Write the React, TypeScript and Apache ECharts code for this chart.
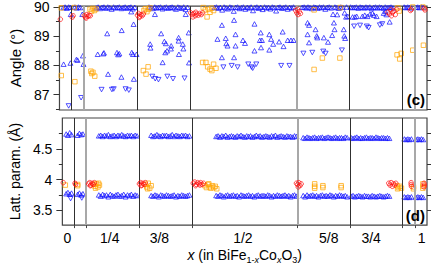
import React, { useEffect, useRef } from "react";
import * as echarts from "echarts";

// ---------- Axis / layout values ----------
const angleTicksMajor = [87, 88, 89, 90];
const angleTicksMinor = [86.5, 87.5, 88.5, 89.5];
const angleTicksAll = [86.5, 87, 87.5, 88, 88.5, 89, 89.5, 90];
const lattTicksMajor = [3.5, 4, 4.5];
const lattTicksMinor = [3.75, 4.25, 4.75];
const lattTicksAll = [3.5, 3.75, 4, 4.25, 4.5, 4.75];

// structure-index axis: compositions separated by vertical lines
const sepPos = [4.1, 8.1, 26.1, 44.1, 79.9, 97.8, 115.7, 119.9];
const sepGray = [false, true, false, false, true, false, false, true];
const xLabelPos = [1.7, 16.1, 33, 61.4, 90.6, 105, 122.2];
const xLabelText = ["0", "1/4", "3/8", "1/2", "5/8", "3/4", "1"];

// ---------- Band segments (start index, step) ----------
const segStart = [1.3, 5.2, 12.4, 30.2, 52.3, 81.9, 98.2, 116.3, 120.3];
const segStep = [0.6, 0.6, 0.65, 0.65, 0.65, 0.65, 0.65, 0.6, 0.6];

// Angle: blue near-90 band
const bandAngle = [
  [89.98, 90.0, 89.96, 90.0, 89.99],
  [90.0, 89.97, 90.0, 89.98],
  [89.97, 90.0, 89.95, 89.99, 90.0, 89.96, 90.0, 89.98, 89.93, 90.0, 89.97, 89.99, 90.0, 89.95, 89.98, 90.0, 89.96, 89.99, 90.0, 89.94, 89.99],
  [90.0, 89.98, 89.95, 90.0, 89.97, 89.99, 90.0, 89.94, 89.98, 90.0, 89.96, 89.99, 90.0, 89.97, 89.93, 90.0, 89.98, 89.96, 90.0, 89.92, 89.99],
  [89.98, 90.0, 89.96, 89.99, 89.9, 90.0, 89.97, 89.94, 90.0, 89.98, 89.86, 89.99, 90.0, 89.95, 89.98, 90.0, 89.93, 89.99, 89.97, 90.0, 89.88, 89.98, 90.0, 89.96, 89.99, 89.92, 90.0, 89.97, 89.99, 89.94, 90.0, 89.98, 89.87, 89.99, 90.0, 89.96, 89.98, 90.0, 89.93, 89.99, 89.97, 90.0],
  [89.99, 90.0, 89.97, 90.0, 89.98, 89.95, 90.0, 89.99, 89.96, 90.0, 89.98, 90.0, 89.93, 89.99, 90.0, 89.97, 89.75, 90.0, 89.98, 89.96, 90.0, 89.99, 89.8, 90.0],
  [90.0, 89.98, 89.99, 90.0, 89.96, 90.0, 89.99, 89.97, 90.0, 89.98, 90.0, 89.95, 89.99, 90.0, 89.97, 90.0, 89.99, 89.96, 90.0, 89.98, 89.99, 90.0, 89.97],
  [90.0, 89.98, 90.0, 89.99, 89.97],
  [89.99, 90.0, 89.98, 90.0, 89.99],
];

// Lattice: blue upper (c) band
const bandLattUpper = [
  [4.74, 4.72, 4.76, 4.73],
  [4.72, 4.75, 4.73, 4.74],
  [4.71, 4.72, 4.70, 4.72, 4.71, 4.73, 4.70, 4.71, 4.72, 4.70, 4.72, 4.71, 4.73, 4.71, 4.70, 4.72, 4.71, 4.72, 4.70, 4.72, 4.71],
  [4.72, 4.70, 4.71, 4.73, 4.71, 4.70, 4.72, 4.71, 4.72, 4.70, 4.71, 4.73, 4.70, 4.72, 4.71, 4.70, 4.72, 4.71, 4.72, 4.70, 4.71],
  [4.70, 4.71, 4.69, 4.71, 4.70, 4.72, 4.69, 4.70, 4.71, 4.70, 4.69, 4.71, 4.70, 4.72, 4.70, 4.69, 4.71, 4.70, 4.71, 4.69, 4.70, 4.72, 4.70, 4.71, 4.69, 4.70, 4.71, 4.70, 4.69, 4.71, 4.70, 4.72, 4.69, 4.70, 4.71, 4.70, 4.69, 4.71, 4.70, 4.70, 4.69, 4.71, 4.70],
  [4.68, 4.67, 4.69, 4.68, 4.67, 4.68, 4.69, 4.67, 4.68, 4.68, 4.69, 4.67, 4.68, 4.69, 4.68, 4.67, 4.68, 4.69, 4.67, 4.68, 4.68, 4.67, 4.69, 4.68],
  [4.68, 4.67, 4.68, 4.69, 4.67, 4.68, 4.67, 4.68, 4.69, 4.67, 4.68, 4.68, 4.67, 4.69, 4.68, 4.67, 4.68, 4.68, 4.67, 4.68, 4.67],
  [4.66, 4.65, 4.66, 4.65, 4.66],
  [4.65, 4.66, 4.65, 4.66, 4.65],
];

// Lattice: blue lower (a, b) band
const bandLattLower = [
  [3.77, 3.79, 3.76, 3.78],
  [3.76, 3.78, 3.75, 3.77],
  [3.75, 3.73, 3.76, 3.74, 3.75, 3.72, 3.76, 3.74, 3.73, 3.75, 3.76, 3.73, 3.74, 3.76, 3.72, 3.75, 3.74, 3.76, 3.73, 3.75, 3.74],
  [3.74, 3.73, 3.75, 3.74, 3.72, 3.75, 3.74, 3.73, 3.75, 3.74, 3.73, 3.74, 3.75, 3.72, 3.74, 3.73, 3.75, 3.74, 3.73, 3.74, 3.75],
  [3.74, 3.73, 3.75, 3.74, 3.72, 3.74, 3.75, 3.73, 3.74, 3.75, 3.73, 3.74, 3.72, 3.75, 3.74, 3.73, 3.74, 3.75, 3.73, 3.74, 3.72, 3.74, 3.75, 3.73, 3.74, 3.74, 3.73, 3.75, 3.74, 3.72, 3.74, 3.73, 3.75, 3.74, 3.73, 3.74, 3.75, 3.73, 3.74, 3.72, 3.74, 3.75, 3.73],
  [3.74, 3.72, 3.75, 3.73, 3.74, 3.75, 3.73, 3.74, 3.72, 3.74, 3.75, 3.73, 3.74, 3.73, 3.75, 3.74, 3.72, 3.74, 3.73, 3.75, 3.74, 3.73, 3.74, 3.72],
  [3.73, 3.74, 3.72, 3.73, 3.74, 3.73, 3.72, 3.74, 3.73, 3.73, 3.72, 3.74, 3.73, 3.72, 3.73, 3.74, 3.73, 3.72, 3.73, 3.74, 3.73],
  [3.72, 3.71, 3.72, 3.71, 3.72],
  [3.71, 3.72, 3.71, 3.72, 3.71],
];

// ---------- Scattered points [structure index, value] ----------
const blueUpAngle = [
  [1.4, 88.04], [3.7, 88.08], [3.8, 89.75],
  [5.7, 88.2], [6.1, 88.18], [7.9, 88.33], [8.1, 88.04], [7.7, 89.75],
  [12.9, 88.38], [14.8, 88.4], [15.0, 88.43], [16.1, 89.09], [16.4, 87.7], [19.4, 88.44], [19.8, 88.37], [20.2, 88.4],
  [21.0, 89.2], [20.9, 87.6], [24.4, 88.44], [24.8, 88.38], [26.0, 88.38], [25.0, 89.41], [25.1, 87.53], [24.2, 89.84],
  [30.6, 88.73], [30.7, 88.6], [32.2, 89.75], [34.3, 89.09], [34.8, 88.1], [35.4, 88.82], [35.9, 88.75], [35.7, 88.44],
  [36.3, 88.5], [37.7, 88.67], [37.6, 88.57], [40.2, 88.84], [40.2, 88.95], [40.3, 88.38], [41.6, 88.73], [41.8, 88.57],
  [43.6, 89.12], [43.7, 88.09], [42.6, 89.75],
  [53.3, 88.9], [54.8, 89.38], [54.8, 88.27], [56.1, 88.93], [56.3, 88.75], [56.7, 88.67], [58.9, 89.55], [59.4, 89.06],
  [59.4, 88.67], [58.9, 88.27], [61.9, 88.86], [62.6, 88.76], [65.8, 89.42], [65.8, 88.5], [67.6, 88.86], [67.9, 89.12],
  [68.3, 88.86], [68.0, 88.61], [70.8, 89.06], [71.4, 88.9], [72.1, 88.73], [70.8, 88.53], [74.1, 88.81], [75.3, 89.15],
  [75.6, 88.65], [77.0, 88.86], [78.1, 88.86], [79.0, 88.86],
  [83.7, 89.46], [84.2, 89.38], [83.7, 89.06], [86.4, 89.23], [86.8, 89.01], [87.0, 88.95], [84.2, 88.78], [89.2, 88.95],
  [90.6, 88.8], [92.0, 89.03], [92.6, 89.46], [92.8, 89.23], [95.9, 89.23], [96.1, 89.01], [96.4, 88.93], [93.7, 89.74],
  [96.7, 89.66], [97.3, 89.68],
  [98.9, 89.66], [99.7, 89.66], [100.3, 89.68], [102.2, 89.68], [103.0, 89.72], [103.9, 89.68], [104.8, 89.76],
  [105.6, 89.79], [106.1, 89.72], [107.0, 89.68], [109.4, 89.79], [110.0, 89.85], [110.3, 89.74], [111.4, 89.49],
];

const blueDownAngle = [
  [3.1, 86.61], [7.3, 86.89],
  [14.2, 87.17], [17.7, 87.17], [18.3, 87.19], [22.3, 87.19], [23.4, 87.15],
  [31.3, 87.62], [32.3, 87.54], [33.4, 87.51], [36.4, 87.62], [38.3, 87.54], [42.2, 87.56],
  [55.3, 87.94], [58.1, 87.99], [60.1, 87.94], [63.7, 88.04], [64.8, 87.94], [65.2, 87.9], [66.4, 88.04], [74.8, 87.99], [77.6, 87.99],
  [82.3, 88.41], [85.3, 88.44], [89.0, 88.48], [89.8, 88.41], [95.3, 88.52],
  [99.4, 89.34], [101.4, 89.37], [103.7, 89.34], [104.3, 89.29], [108.1, 89.38], [108.9, 89.42],
];

const orangeAngle = [
  [0.6, 89.97], [0.6, 87.65],
  [5.0, 89.98], [5.2, 87.44],
  [10.3, 89.92], [10.8, 89.86], [11.3, 89.95], [11.8, 89.88], [12.3, 89.93],
  [10.6, 87.8], [11.3, 87.76], [11.9, 87.63], [10.9, 87.72],
  [28.5, 89.88], [29.0, 89.94], [29.5, 89.84], [30.0, 89.92], [30.5, 89.97],
  [28.3, 87.82], [29.2, 87.7], [29.9, 87.95],
  [48.5, 89.98], [49.2, 89.9], [49.8, 89.66], [50.3, 89.92], [50.8, 89.82], [51.4, 89.96], [52.0, 89.88],
  [48.3, 88.1], [49.4, 88.1], [50.0, 87.95], [50.8, 87.87], [51.4, 87.82], [52.0, 88.04], [52.8, 87.9],
  [85.9, 89.9], [94.8, 89.98], [88.7, 88.25], [85.9, 87.86], [94.6, 88.25],
  [114.2, 89.97], [114.6, 89.86], [113.9, 88.36], [114.8, 88.22], [115.3, 88.41],
  [119.2, 90.0], [119.2, 88.52],
  [122.6, 90.0], [122.8, 88.69],
];

const redAngle = [
  [0.3, 89.58],
  [4.3, 89.65], [4.6, 89.7],
  [8.4, 89.7], [8.8, 89.66], [9.2, 89.74], [9.6, 89.68], [10.0, 89.72], [10.4, 89.7], [9.0, 89.62],
  [26.3, 89.72], [26.7, 89.78], [27.1, 89.68], [27.5, 89.74], [27.9, 89.7], [28.3, 89.76], [26.9, 89.64],
  [44.3, 89.8], [44.8, 89.74], [45.3, 89.78], [45.8, 89.7], [46.3, 89.76], [46.8, 89.72], [47.3, 89.78], [47.8, 89.74], [48.3, 89.8], [45.0, 89.66], [46.0, 89.82],
  [79.7, 89.88], [80.1, 89.8], [80.5, 89.74], [80.9, 89.84], [81.3, 89.78], [80.3, 89.92],
  [110.8, 89.82], [111.3, 89.76], [111.8, 89.9], [112.3, 89.8], [112.8, 89.86], [113.3, 89.74], [113.8, 89.92], [112.0, 89.7],
  [118.4, 89.88], [118.7, 89.92],
  [123.1, 89.95], [123.3, 89.9],
];

const blueDownLatt = [[2.8, 3.69], [6.6, 3.7]];

const redLatt = [
  [0.3, 3.95],
  [4.3, 3.94], [4.5, 3.92],
  [8.9, 3.93], [9.3, 3.95], [9.7, 3.91], [10.1, 3.94], [10.5, 3.92], [10.9, 3.95], [9.5, 3.9],
  [26.2, 3.93], [26.6, 3.95], [27.0, 3.91], [27.4, 3.94], [27.8, 3.92], [28.2, 3.95], [26.8, 3.9],
  [44.5, 3.94], [45.0, 3.96], [45.5, 3.92], [46.0, 3.95], [46.5, 3.93], [47.0, 3.95], [47.5, 3.92], [48.0, 3.94], [45.3, 3.9], [46.8, 3.91],
  [79.6, 3.94], [80.0, 3.92], [80.4, 3.95], [80.8, 3.9], [81.2, 3.93], [80.2, 3.88],
  [111.0, 3.94], [111.4, 3.91], [111.8, 3.95], [112.2, 3.89], [112.6, 3.93], [113.0, 3.91], [113.4, 3.94],
  [118.6, 3.95], [118.6, 3.92], [118.7, 3.89],
  [123.0, 3.94], [123.1, 3.91], [123.0, 3.88],
];

const orangeLatt = [
  [1.0, 3.91],
  [5.2, 3.9], [5.2, 3.92],
  [10.6, 3.92], [11.1, 3.89], [11.6, 3.93], [12.1, 3.88], [12.6, 3.91], [11.3, 3.86], [12.3, 3.94],
  [28.2, 3.92], [28.7, 3.88], [29.2, 3.94], [29.7, 3.86], [30.2, 3.9], [29.0, 3.85],
  [48.5, 3.9], [49.0, 3.87], [49.5, 3.92], [50.0, 3.88], [50.5, 3.86], [51.0, 3.9], [51.5, 3.87], [52.0, 3.89], [52.5, 3.85], [49.8, 3.93],
  [85.8, 3.93], [85.8, 3.89], [85.8, 3.86], [88.6, 3.9], [88.6, 3.87], [94.8, 3.9], [94.8, 3.87],
  [113.8, 3.9], [114.3, 3.87], [114.8, 3.89], [115.3, 3.86], [114.0, 3.85],
  [119.4, 3.88], [119.4, 3.85],
  [122.6, 3.93], [122.7, 3.89], [122.6, 3.86],
];

// ---------- helpers ----------
const bandPoints = (bands: number[][]) =>
  bands.flatMap((vals, s) => vals.map((v, k) => [segStart[s] + k * segStep[s], v]));

const FONT = "Liberation Sans, Arial, Helvetica, sans-serif";
const BLUE = "#1010ff";
const ORANGE = "#ffa500";
const RED = "#ff1010";
const TRI = [5, 4.5];
const SQ = 4.5;
const CIR = 4.5;

const hollow = (color: string) => ({ color: "transparent", borderColor: color, borderWidth: 0.9 });

const sepLines = {
  silent: true,
  symbol: ["none", "none"],
  label: { show: false },
  animation: false,
  data: sepPos.map((v, i) => ({
    xAxis: v,
    lineStyle: sepGray[i]
      ? { color: "#a8a8a8", width: 2, type: "solid" }
      : { color: "#303030", width: 1, type: "solid" },
  })),
};

export default function App() {
  const ref = useRef<HTMLDivElement>(null);
  useEffect(() => {
    document.body.style.margin = "0";
    if (!ref.current) return;
    const chart = echarts.init(ref.current, undefined, { renderer: "svg" });

    const yBase = (gridIndex: number, min: number, max: number) => ({
      type: "value",
      gridIndex,
      min,
      max,
      splitLine: { show: false },
      axisLine: { show: false },
    });

    const option: any = {
      animation: false,
      backgroundColor: "#ffffff",
      grid: [
        { left: 55, right: 9, top: 5, height: 105, show: true, borderColor: "#444", borderWidth: 1.2, backgroundColor: "transparent" },
        { left: 55, right: 9, top: 118, height: 108.5, show: true, borderColor: "#444", borderWidth: 1.2, backgroundColor: "transparent" },
      ],
      xAxis: [
        {
          type: "value", gridIndex: 0, min: 0, max: 124,
          axisLabel: { show: false }, axisTick: { show: false }, axisLine: { show: false }, splitLine: { show: false },
        },
        {
          type: "value", gridIndex: 1, min: 0, max: 124,
          axisLine: { show: false }, splitLine: { show: false },
          axisTick: { show: true, customValues: sepPos, length: 3, lineStyle: { color: "#444" } },
          axisLabel: {
            show: true,
            customValues: xLabelPos,
            margin: 6,
            fontSize: 14,
            fontFamily: FONT,
            color: "#000",
            formatter: (v: number) => {
              const i = xLabelPos.findIndex((p) => Math.abs(p - v) < 0.01);
              return i >= 0 ? xLabelText[i] : "";
            },
          },
          name: "{i|x} (in BiFe{s|1-}{si|x}Co{si|x}O{s|3})",
          nameLocation: "middle",
          nameGap: 19,
          nameTextStyle: {
            fontSize: 14,
            fontFamily: FONT,
            color: "#000",
            lineHeight: 18,
            rich: {
              i: { fontSize: 14, fontStyle: "italic", fontFamily: FONT, color: "#000", lineHeight: 18 },
              s: { fontSize: 9, fontFamily: FONT, color: "#000", lineHeight: 9, verticalAlign: "bottom" },
              si: { fontSize: 9, fontStyle: "italic", fontFamily: FONT, color: "#000", lineHeight: 9, verticalAlign: "bottom" },
            },
          },
        },
      ],
      yAxis: [
        {
          ...yBase(0, 86.47, 90.03), position: "left",
          axisTick: { show: true, customValues: angleTicksMajor, length: 6, lineStyle: { color: "#333" } },
          axisLabel: { show: true, customValues: angleTicksMajor, margin: 10, fontSize: 14, fontFamily: FONT, color: "#000" },
          name: "Angle (°)", nameLocation: "middle", nameGap: 35,
          nameTextStyle: { fontSize: 15, fontFamily: FONT, color: "#000" },
        },
        {
          ...yBase(0, 86.47, 90.03), position: "left",
          axisTick: { show: true, customValues: angleTicksMinor, length: 3.5, lineStyle: { color: "#333" } },
          axisLabel: { show: false },
        },
        {
          ...yBase(0, 86.47, 90.03), position: "right",
          axisTick: { show: true, customValues: angleTicksAll, length: 4, lineStyle: { color: "#333" } },
          axisLabel: { show: false },
        },
        {
          ...yBase(1, 3.26, 5.0), position: "left",
          axisTick: { show: true, customValues: lattTicksMajor, length: 6, lineStyle: { color: "#333" } },
          axisLabel: {
            show: true, customValues: lattTicksMajor, margin: 10, fontSize: 14, fontFamily: FONT, color: "#000",
            formatter: (v: number) => String(v),
          },
          name: "Latt. param. (Å)", nameLocation: "middle", nameGap: 35,
          nameTextStyle: { fontSize: 14, fontFamily: FONT, color: "#000" },
        },
        {
          ...yBase(1, 3.26, 5.0), position: "left",
          axisTick: { show: true, customValues: lattTicksMinor, length: 3.5, lineStyle: { color: "#333" } },
          axisLabel: { show: false },
        },
        {
          ...yBase(1, 3.26, 5.0), position: "right",
          axisTick: { show: true, customValues: lattTicksAll, length: 4, lineStyle: { color: "#333" } },
          axisLabel: { show: false },
        },
      ],
      series: [
        {
          type: "scatter", xAxisIndex: 0, yAxisIndex: 0, data: bandPoints(bandAngle),
          symbol: "triangle", symbolSize: TRI, itemStyle: hollow(BLUE), markLine: sepLines, z: 3,
        },
        { type: "scatter", xAxisIndex: 0, yAxisIndex: 0, data: blueUpAngle, symbol: "triangle", symbolSize: TRI, itemStyle: hollow(BLUE), z: 3 },
        { type: "scatter", xAxisIndex: 0, yAxisIndex: 0, data: blueDownAngle, symbol: "triangle", symbolRotate: 180, symbolSize: TRI, itemStyle: hollow(BLUE), z: 3 },
        { type: "scatter", xAxisIndex: 0, yAxisIndex: 0, data: orangeAngle, symbol: "rect", symbolSize: SQ, itemStyle: hollow(ORANGE), z: 4 },
        { type: "scatter", xAxisIndex: 0, yAxisIndex: 0, data: redAngle, symbol: "circle", symbolSize: CIR, itemStyle: hollow(RED), z: 5 },
        {
          type: "scatter", xAxisIndex: 1, yAxisIndex: 3, data: bandPoints(bandLattUpper),
          symbol: "triangle", symbolSize: TRI, itemStyle: hollow(BLUE), markLine: sepLines, z: 3,
        },
        { type: "scatter", xAxisIndex: 1, yAxisIndex: 3, data: bandPoints(bandLattLower), symbol: "triangle", symbolSize: TRI, itemStyle: hollow(BLUE), z: 3 },
        { type: "scatter", xAxisIndex: 1, yAxisIndex: 3, data: blueDownLatt, symbol: "triangle", symbolRotate: 180, symbolSize: TRI, itemStyle: hollow(BLUE), z: 3 },
        { type: "scatter", xAxisIndex: 1, yAxisIndex: 3, data: orangeLatt, symbol: "rect", symbolSize: SQ, itemStyle: hollow(ORANGE), z: 4 },
        { type: "scatter", xAxisIndex: 1, yAxisIndex: 3, data: redLatt, symbol: "circle", symbolSize: CIR, itemStyle: hollow(RED), z: 5 },
      ],
      graphic: [
        { type: "text", x: 425, y: 99, z: 10, style: { text: "(c)", align: "right", verticalAlign: "middle", fontSize: 15, fontWeight: "bold", fontFamily: FONT, fill: "#000" } },
        { type: "text", x: 425, y: 215, z: 10, style: { text: "(d)", align: "right", verticalAlign: "middle", fontSize: 15, fontWeight: "bold", fontFamily: FONT, fill: "#000" } },
      ],
    };

    chart.setOption(option);
    return () => chart.dispose();
  }, []);

  return <div ref={ref} style={{ width: 436, height: 265 }} />;
}
